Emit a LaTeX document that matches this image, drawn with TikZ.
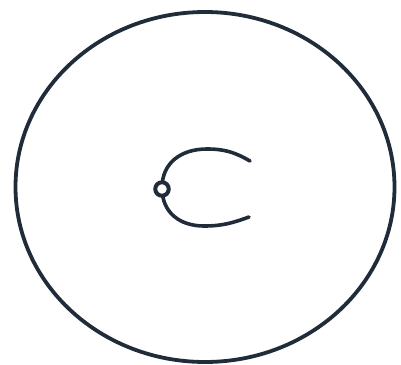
\documentclass[tikz,border=0pt]{standalone}
\definecolor{ink}{RGB}{32,44,58}
\begin{document}
\begin{tikzpicture}[x=1pt,y=-1pt,
  stroke/.style={draw=ink,line width=3.8pt},
  pivot/.style={circle,draw=ink,line width=4pt,fill=white,minimum size=13.5pt,inner sep=0pt}]
\useasboundingbox (0,0) rectangle (401,364);
\draw[stroke] (205,187) ellipse [x radius=189.5, y radius=175];
\coordinate (t) at (250,161);
\coordinate (b) at (249,217);
\draw[stroke,line width=3.6pt,line cap=round]
  (t) to[out=150,in=0] (207,149) to[out=180,in=90,looseness=1.1] (162,188)
      to[out=-90,in=180,looseness=1.1] (204,226) to[out=0,in=200] (b);
\node[pivot] (p) at (162,189) {};
\end{tikzpicture}
\end{document}
